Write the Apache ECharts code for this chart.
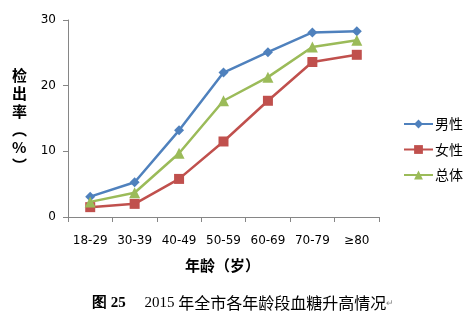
<!DOCTYPE html>
<html><head><meta charset="utf-8">
<script src="https://cdn.jsdelivr.net/npm/echarts@6/dist/echarts.min.js"></script>
<style>html,body{margin:0;padding:0;background:#fff}#c{width:472px;height:322px}</style>
</head><body><div id="c"></div>
<script>
var categories = ['18-29','30-39','40-49','50-59','60-69','70-79','≥80'];
var male = [3.1, 5.3, 13.2, 22.0, 25.1, 28.1, 28.3];
var female = [1.5, 2.0, 5.8, 11.5, 17.7, 23.6, 24.7];
var total = [2.3, 3.7, 9.7, 17.7, 21.3, 25.9, 26.9];
var yTicks = [0, 10, 20, 30];
var seriesNames = ['男性','女性','总体'];

var chart = echarts.init(document.getElementById('c'));
var cjk = '"Noto Sans CJK SC", sans-serif';
function mk(name, data, color, symbol, size) {
  return { name: name, type: 'line', data: data, symbol: symbol, symbolSize: size,
    showSymbol: true, lineStyle: { color: color, width: 2.5 },
    itemStyle: { color: color }, animation: false };
}
chart.setOption({
  animation: false,
  grid: { left: 68, right: 93, top: 20, bottom: 105 },
  xAxis: { type: 'category', data: categories, boundaryGap: true,
    axisLine: { lineStyle: { color: '#868686', width: 1 } },
    axisTick: { show: true, length: 5, inside: false, alignWithLabel: false, lineStyle: { color: '#868686' } },
    axisLabel: { interval: 0, color: '#000', fontSize: 12, fontFamily: 'DejaVu Sans, sans-serif', margin: 18 },
    splitLine: { show: false } },
  yAxis: { type: 'value', min: yTicks[0], max: yTicks[yTicks.length-1], interval: 10,
    axisLine: { show: true, lineStyle: { color: '#868686', width: 1 } },
    axisTick: { show: true, length: 5, lineStyle: { color: '#868686' } },
    axisLabel: { color: '#000', fontSize: 12, fontFamily: 'DejaVu Sans, sans-serif', margin: 12 },
    splitLine: { show: false } },
  legend: { orient: 'vertical', left: 398, top: 112, itemGap: 11.5, itemWidth: 29, itemHeight: 11,
    data: seriesNames,
    textStyle: { color: '#000', fontSize: 14, fontFamily: cjk, padding: [0,0,0,-3] } },
  graphic: [
    { type: 'text', left: 12, top: 66, style: { text: '检\n出\n率\n︵\n%\n︶', font: 'bold 15px ' + cjk, fill: '#000', lineHeight: 18, align: 'center' } },
    { type: 'text', left: 185, top: 258, style: { text: '年龄（岁）', font: 'bold 15px ' + cjk, fill: '#000' } },
    { type: 'text', left: 92, top: 295, style: { rich: {
        b: { fontFamily: '"Liberation Serif", serif', fontWeight: 'bold', fontSize: 15, fill: '#000' },
        n: { fontFamily: '"Liberation Serif", serif', fontSize: 15, fill: '#000' },
        c: { fontFamily: cjk, fontSize: 16, fill: '#000' },
        m: { fontFamily: cjk, fontSize: 9, fill: '#888' } },
        text: '{b|图 25}{n|     2015 }{c|年全市各年龄段血糖升高情况}{m|↵}' } }
  ],
  series: [
    mk(seriesNames[0], male, '#4F81BD', 'diamond', 10),
    mk(seriesNames[1], female, '#C0504D', 'rect', 10),
    mk(seriesNames[2], total, '#9BBB59', 'triangle', 11)
  ]
});
</script></body></html>
